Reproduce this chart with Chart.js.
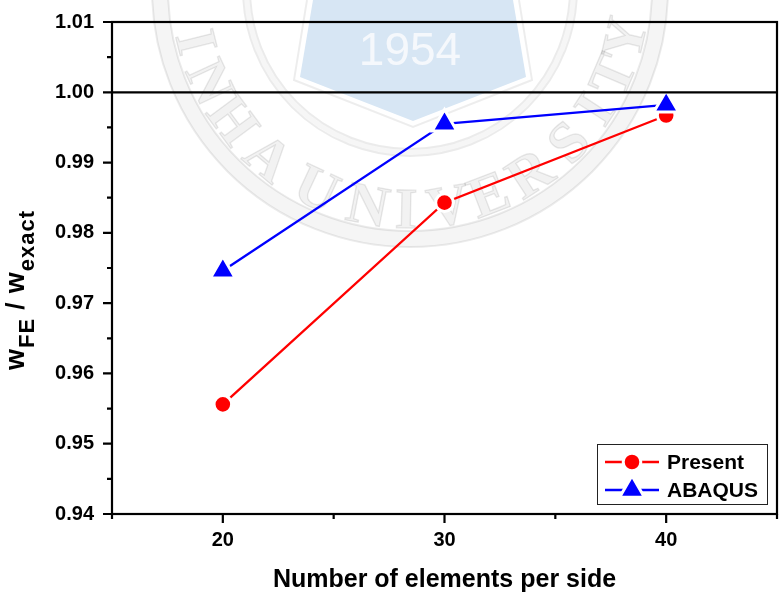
<!DOCTYPE html>
<html>
<head>
<meta charset="utf-8">
<title>w_FE / w_exact</title>
<script src="https://cdn.jsdelivr.net/npm/chart.js@4.4.1/dist/chart.umd.min.js"></script>
<style>
html, body { margin: 0; padding: 0; background: #fff; }
#wrap { width: 784px; height: 595px; }
</style>
</head>
<body>
<div id="wrap"><canvas id="myChart" width="784" height="595"></canvas></div>
<script>
// data
const elements = [20, 30, 40];
const present = [0.9556, 0.9843, 0.9967];
const abaqus = [0.9746, 0.9955, 0.9982];
const seriesNames = ['Present', 'ABAQUS'];
const xTicks = [20, 30, 40];
const yTicks = [0.94, 0.95, 0.96, 0.97, 0.98, 0.99, 1.00, 1.01];
const refLine = 1.00;
const xTitle = 'Number of elements per side';

const FONT = "'Liberation Sans', Arial, sans-serif";
Chart.defaults.font.family = FONT;
Chart.defaults.color = '#000';

// background seal (watermark)
const sealLetters = [['I',166],['N',155],['H',143.5],['A',130],['U',115],['N',101],['I',91],
  ['V',80],['E',69],['R',57],['S',44],['I',33],['T',23],['Y',13]];

const seal = {
  id: 'seal',
  beforeDraw(chart) {
    const ctx = chart.ctx;
    ctx.save();
    ctx.fillStyle = '#fff';
    ctx.fillRect(0, 0, chart.width, chart.height);
    const cx = 410, cy = -11;
    // outer band
    ctx.beginPath();
    ctx.arc(cx, cy, 258, 0, Math.PI * 2);
    ctx.arc(cx, cy, 242, 0, Math.PI * 2, true);
    ctx.fillStyle = 'rgba(0,0,0,0.04)';
    ctx.fill();
    ctx.strokeStyle = 'rgba(0,0,0,0.08)';
    ctx.lineWidth = 2;
    [258, 242, 167, 160].forEach(r => {
      ctx.beginPath(); ctx.arc(cx, cy, r, 0, Math.PI * 2); ctx.stroke();
    });
    ctx.beginPath();
    ctx.arc(cx, cy, 166, 0, Math.PI * 2);
    ctx.arc(cx, cy, 161, 0, Math.PI * 2, true);
    ctx.fillStyle = 'rgba(0,0,0,0.035)';
    ctx.fill();
    // shield
    ctx.beginPath();
    ctx.moveTo(313, 0); ctx.lineTo(300, 77); ctx.lineTo(413, 121); ctx.lineTo(526, 77); ctx.lineTo(513, 0);
    ctx.closePath();
    ctx.fillStyle = '#d7e6f4';
    ctx.fill();
    ctx.beginPath();
    ctx.moveTo(307, 0); ctx.lineTo(294, 80); ctx.lineTo(413, 127); ctx.lineTo(532, 80); ctx.lineTo(519, 0);
    ctx.strokeStyle = 'rgba(0,0,0,0.07)';
    ctx.lineWidth = 2;
    ctx.stroke();
    ctx.fillStyle = '#f5f8fc';
    ctx.font = "46px " + FONT;
    ctx.textAlign = 'center';
    ctx.textBaseline = 'alphabetic';
    ctx.fillText('1954', 410, 65);
    // INHA UNIVERSITY around the ring
    ctx.font = "bold 58px 'Liberation Serif', 'DejaVu Serif', serif";
    ctx.fillStyle = 'rgba(0,0,0,0.05)';
    ctx.strokeStyle = 'rgba(0,0,0,0.09)';
    ctx.lineWidth = 1.4;
    sealLetters.forEach(([ch, deg]) => {
      const a = deg * Math.PI / 180;
      const r = 239;
      ctx.save();
      ctx.translate(cx + r * Math.cos(a), cy + r * Math.sin(a));
      ctx.rotate(a - Math.PI / 2);
      ctx.fillText(ch, 0, 0);
      ctx.strokeText(ch, 0, 0);
      ctx.restore();
    });
    ctx.restore();
  }
};

// box, reference line and ticks
const frame = {
  id: 'frame',
  afterDatasetsDraw(chart) {
    const {ctx, chartArea: a, scales: {x, y}} = chart;
    ctx.save();
    ctx.strokeStyle = '#000';
    ctx.lineWidth = 2.2;
    const yr = y.getPixelForValue(refLine);
    ctx.beginPath();
    ctx.moveTo(a.left, yr); ctx.lineTo(a.right, yr);
    ctx.stroke();
    ctx.lineCap = 'square';
    ctx.strokeRect(a.left, a.top, a.right - a.left, a.bottom - a.top);
    ctx.lineCap = 'butt';
    ctx.beginPath();
    xTicks.forEach(v => {
      const px = x.getPixelForValue(v);
      ctx.moveTo(px, a.bottom); ctx.lineTo(px, a.bottom + 9);
    });
    for (let v = x.min; v <= x.max; v += 10) {
      const px = x.getPixelForValue(v);
      ctx.moveTo(px, a.bottom); ctx.lineTo(px, a.bottom + 5);
    }
    yTicks.forEach((v, i) => {
      const py = y.getPixelForValue(v);
      ctx.moveTo(a.left - 9, py); ctx.lineTo(a.left, py);
      if (i < yTicks.length - 1) {
        const pm = y.getPixelForValue((v + yTicks[i + 1]) / 2);
        ctx.moveTo(a.left - 5, pm); ctx.lineTo(a.left, pm);
      }
    });
    ctx.stroke();
    ctx.restore();
  }
};

// y title with subscripts
const yTitle = {
  id: 'yTitle',
  afterDraw(chart) {
    const ctx = chart.ctx;
    const parts = [['w', 27, 0], ['FE', 22, 10], [' / ', 26, 0], ['w', 27, 0], ['exact', 22, 10]];
    ctx.save();
    ctx.fillStyle = '#000';
    ctx.textBaseline = 'alphabetic';
    ctx.letterSpacing = '1px';
    let total = 0;
    parts.forEach(p => { ctx.font = 'bold ' + p[1] + 'px ' + FONT; total += ctx.measureText(p[0]).width; });
    ctx.translate(24, 290);
    ctx.rotate(-Math.PI / 2);
    let pos = -total / 2;
    parts.forEach(p => {
      ctx.font = 'bold ' + p[1] + 'px ' + FONT;
      ctx.fillText(p[0], pos, p[2]);
      pos += ctx.measureText(p[0]).width;
    });
    ctx.restore();
  }
};

// legend with line through marker
const lineLegend = {
  id: 'lineLegend',
  afterDraw(chart) {
    const ctx = chart.ctx;
    ctx.save();
    ctx.strokeStyle = '#222';
    ctx.lineWidth = 1;
    ctx.strokeRect(597.5, 444.5, 170, 60);
    chart.data.datasets.forEach((ds, i) => {
      const yy = 462 + i * 28;
      ctx.strokeStyle = ds.borderColor;
      ctx.lineWidth = ds.borderWidth;
      ctx.beginPath();
      ctx.moveTo(605, yy); ctx.lineTo(659, yy);
      ctx.stroke();
      ctx.fillStyle = ds.pointBackgroundColor;
      ctx.strokeStyle = '#fff';
      ctx.lineWidth = ds.pointBorderWidth;
      Chart.helpers.drawPoint(ctx, {pointStyle: ds.pointStyle, radius: ds.pointRadius, borderWidth: ds.pointBorderWidth, rotation: 0}, 632, yy);
      ctx.fillStyle = '#000';
      ctx.font = 'bold 21px ' + FONT;
      ctx.textBaseline = 'middle';
      ctx.textAlign = 'left';
      ctx.fillText(ds.label, 667, yy + 1);
    });
    ctx.restore();
  }
};

const data = {
  datasets: [{
    label: seriesNames[0],
    data: elements.map((v, i) => ({x: v, y: present[i]})),
    showLine: true,
    borderColor: '#ff0000',
    backgroundColor: '#ff0000',
    borderWidth: 2.3,
    pointStyle: 'circle',
    pointRadius: 8.8,
    pointBackgroundColor: '#ff0000',
    pointBorderColor: '#fff',
    pointBorderWidth: 3,
    order: 1,
    clip: false
  }, {
    label: seriesNames[1],
    data: elements.map((v, i) => ({x: v, y: abaqus[i]})),
    showLine: true,
    borderColor: '#0000ff',
    backgroundColor: '#0000ff',
    borderWidth: 2.3,
    pointStyle: 'triangle',
    pointRadius: 14.3,
    pointBackgroundColor: '#0000ff',
    pointBorderColor: '#fff',
    pointBorderWidth: 3,
    order: 0,
    clip: false
  }]
};

const tickFont = {family: FONT, weight: 'bold', size: 20};

const config = {
  type: 'scatter',
  data: data,
  options: {
    responsive: false,
    animation: false,
    events: [],
    devicePixelRatio: 1,
    layout: { autoPadding: false, padding: {top: 22, right: 7, left: 0, bottom: 0} },
    plugins: { legend: {display: false}, tooltip: {enabled: false} },
    scales: {
      x: {
        type: 'linear',
        min: 15, max: 45,
        afterBuildTicks: s => { s.ticks = xTicks.map(v => ({value: v})); },
        afterFit: s => { s.height = 81; s.paddingLeft = 0; s.paddingRight = 0; },
        ticks: { font: tickFont, color: '#000', padding: 14.5, maxRotation: 0, callback: v => String(v) },
        grid: { display: false, drawTicks: false },
        border: { display: false },
        title: { display: true, text: xTitle, color: '#000', font: {family: FONT, weight: 'bold', size: 25}, padding: {top: 0, bottom: 0} }
      },
      y: {
        type: 'linear',
        min: 0.94, max: 1.01,
        afterBuildTicks: s => { s.ticks = yTicks.map(v => ({value: v})); },
        afterFit: s => { s.width = 112; s.paddingTop = 0; s.paddingBottom = 0; },
        ticks: { font: tickFont, color: '#000', padding: 18, callback: v => v.toFixed(2) },
        grid: { display: false, drawTicks: false },
        border: { display: false }
      }
    }
  },
  plugins: [seal, frame, yTitle, lineLegend]
};

const myChart = new Chart(document.getElementById('myChart').getContext('2d'), config);
</script>
</body>
</html>
